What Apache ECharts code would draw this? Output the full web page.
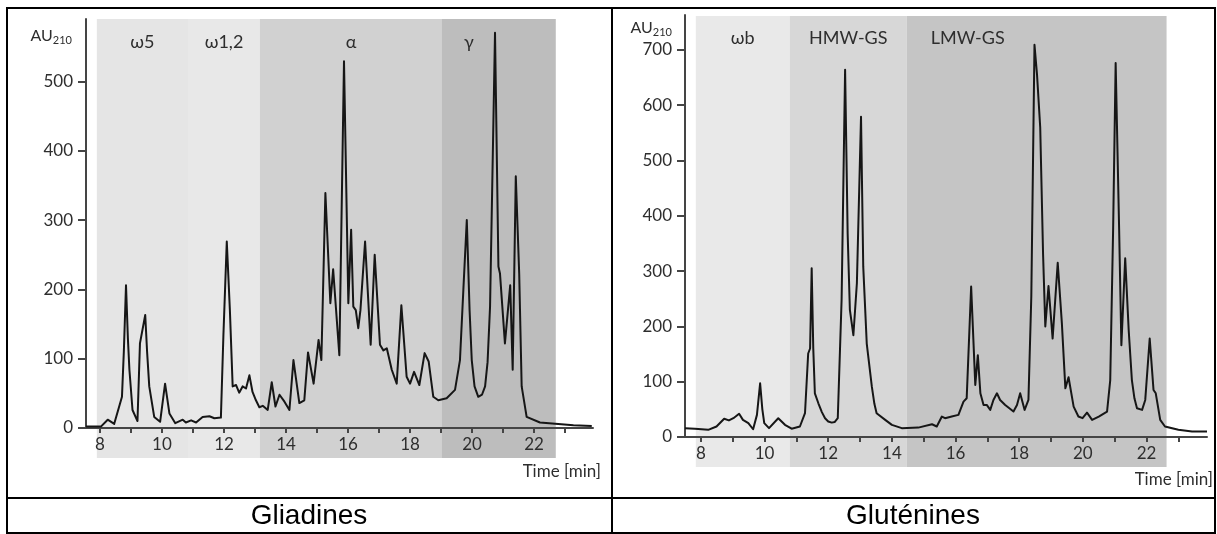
<!DOCTYPE html>
<html>
<head>
<meta charset="utf-8">
<script src="https://cdn.jsdelivr.net/npm/echarts@6/dist/echarts.min.js"></script>
<style>
  html, body { margin: 0; padding: 0; background: #fff; }
  #chart { width: 1217px; height: 534px; }
</style>
</head>
<body>
<div id="chart"></div>
<script>
// gliadin chromatogram (time in min, absorbance AU210)
const gliadinTime = [7.55, 8.03, 8.25, 8.46, 8.62, 8.71, 8.77, 8.84, 8.9, 8.95, 9.05, 9.21, 9.29, 9.35, 9.46, 9.52, 9.59, 9.75, 9.94, 10.1, 10.24, 10.43, 10.67, 10.77, 10.94, 11.1, 11.31, 11.53, 11.69, 11.9, 11.98, 12.09, 12.19, 12.28, 12.39, 12.49, 12.6, 12.71, 12.82, 12.92, 13.03, 13.14, 13.25, 13.41, 13.54, 13.66, 13.79, 13.95, 14.11, 14.24, 14.43, 14.59, 14.71, 14.89, 15.05, 15.14, 15.27, 15.43, 15.52, 15.72, 15.87, 16.01, 16.1, 16.17, 16.25, 16.33, 16.4, 16.55, 16.73, 16.86, 17.03, 17.14, 17.25, 17.41, 17.57, 17.72, 17.89, 18.0, 18.13, 18.3, 18.47, 18.6, 18.75, 18.91, 19.18, 19.45, 19.61, 19.72, 19.83, 19.92, 19.99, 20.08, 20.2, 20.32, 20.42, 20.5, 20.58, 20.74, 20.85, 20.9, 21.06, 21.23, 21.31, 21.41, 21.52, 21.6, 21.76, 22.19, 23.27, 23.86];
const gliadinAU = [2, 2, 12, 6, 31, 45, 110, 206, 130, 84, 26, 10, 122, 124, 163, 110, 60, 16, 9, 64, 21, 7, 12, 8, 11, 8, 16, 17, 14, 15, 132, 269, 170, 60, 62, 51, 60, 57, 76, 52, 40, 30, 32, 26, 66, 31, 48, 38, 26, 98, 36, 40, 109, 64, 127, 98, 339, 180, 229, 105, 529, 180, 286, 175, 170, 144, 170, 269, 120, 250, 120, 112, 115, 84, 64, 177, 74, 64, 81, 62, 108, 96, 45, 40, 43, 55, 98, 200, 300, 170, 98, 60, 45, 48, 60, 95, 175, 570, 233, 223, 122, 206, 84, 363, 223, 60, 16, 8, 4, 3];

// glutenin chromatogram
const gluteninTime = [7.5, 7.81, 8.23, 8.49, 8.73, 8.88, 9.02, 9.09, 9.2, 9.32, 9.49, 9.64, 9.76, 9.86, 9.93, 9.99, 10.14, 10.43, 10.64, 10.85, 11.11, 11.27, 11.37, 11.43, 11.48, 11.53, 11.58, 11.69, 11.8, 11.9, 12.0, 12.11, 12.2, 12.3, 12.42, 12.53, 12.61, 12.68, 12.79, 12.9, 13.03, 13.1, 13.21, 13.26, 13.37, 13.45, 13.52, 13.79, 14.0, 14.31, 14.83, 15.26, 15.41, 15.57, 15.67, 15.88, 16.09, 16.25, 16.35, 16.49, 16.62, 16.7, 16.78, 16.88, 16.98, 17.09, 17.19, 17.3, 17.4, 17.56, 17.82, 17.93, 18.03, 18.17, 18.29, 18.38, 18.48, 18.56, 18.61, 18.66, 18.75, 18.82, 18.92, 19.05, 19.21, 19.34, 19.45, 19.55, 19.71, 19.86, 19.99, 20.13, 20.29, 20.5, 20.76, 20.86, 20.95, 21.03, 21.14, 21.21, 21.33, 21.44, 21.54, 21.62, 21.7, 21.86, 21.96, 22.1, 22.22, 22.29, 22.43, 22.58, 23.0, 23.43, 23.9];
const gluteninAU = [16, 15, 13, 19, 33, 30, 34, 37, 42, 31, 25, 14, 40, 97, 50, 25, 16, 34, 22, 15, 19, 43, 151, 160, 305, 160, 79, 61, 45, 34, 28, 26, 27, 34, 248, 664, 368, 230, 184, 278, 579, 308, 169, 167, 91, 60, 43, 31, 22, 16, 17, 23, 19, 37, 34, 37, 40, 64, 70, 272, 94, 148, 79, 58, 58, 49, 67, 79, 67, 58, 46, 58, 79, 49, 67, 254, 709, 655, 652, 560, 330, 200, 273, 178, 315, 206, 88, 108, 55, 37, 34, 44, 31, 37, 46, 103, 374, 676, 374, 166, 323, 193, 103, 70, 52, 49, 67, 178, 85, 79, 31, 19, 13, 10, 10];

// fraction bands (start/end times)
const gliadinBandNames = ['ω5', 'ω1,2', 'α', 'γ'];
const gliadinBandEdges = [7.9, 10.84, 13.16, 19.03, 22.7];
const gluteninBandNames = ['ωb', 'HMW-GS', 'LMW-GS'];
const gluteninBandEdges = [7.84, 10.79, 14.47, 22.63];

const timeTicks = [8, 9, 10, 11, 12, 13, 14, 15, 16, 17, 18, 19, 20, 21, 22, 23];
const timeLabels = [8, 10, 12, 14, 16, 18, 20, 22];
const gliadinYLabels = [0, 100, 200, 300, 400, 500];
const gluteninYLabels = [0, 100, 200, 300, 400, 500, 600, 700];
const captions = ['Gliadines', 'Gluténines'];

const gliadinBandColors = ['#e5e5e5', '#e8e8e8', '#d1d1d1', '#bdbdbd'];
const gluteninBandColors = ['#e9e9e9', '#d7d7d7', '#c5c5c5'];
const gliadinLabelShift = [0, 0, 0, -30];
const gluteninLabelShift = [0, 0, -69];

const FONT = 'Lato, "Open Sans", sans-serif';
const TEXT = '#2e2e2e';
const AXIS = '#454545';

const chart = echarts.init(document.getElementById('chart'));

function bandAreas(names, edges, colors, shifts) {
  return names.map((n, i) => [
    {
      xAxis: edges[i], yAxis: 0, name: n,
      itemStyle: { color: colors[i] },
      label: { offset: [shifts[i], 0] }
    },
    { xAxis: edges[i + 1], yAxis: 1 }
  ]);
}

function mainX(idx, min, max) {
  return {
    gridIndex: idx, type: 'value', min, max, z: 5,
    axisLine: { onZero: false, lineStyle: { color: AXIS, width: 2 } },
    axisTick: { customValues: timeTicks, length: 5, lineStyle: { color: AXIS, width: 2 } },
    axisLabel: { customValues: timeLabels, color: TEXT, fontSize: 17, fontFamily: FONT, margin: 8 },
    splitLine: { show: false }
  };
}
function mainY(idx, max, labels) {
  return {
    gridIndex: idx, type: 'value', min: 0, max, z: 5,
    axisLine: { show: true, lineStyle: { color: AXIS, width: 2 } },
    axisTick: { show: true, customValues: labels, length: 8, lineStyle: { color: AXIS, width: 2 } },
    axisLabel: { customValues: labels, color: TEXT, fontSize: 17, fontFamily: FONT, margin: 13 },
    splitLine: { show: false }
  };
}
function bandX(idx, min, max) {
  return { gridIndex: idx, type: 'value', min, max, show: false };
}
function bandY(idx) {
  return { gridIndex: idx, type: 'value', min: 0, max: 1, show: false };
}

const lineStyle = { color: '#161616', width: 2, join: 'round' };
const subRich = {
  a: { fontSize: 16, fontFamily: FONT, fill: TEXT, lineHeight: 20, verticalAlign: 'middle' },
  s: { fontSize: 11, fontFamily: FONT, fill: TEXT, lineHeight: 20, verticalAlign: 'bottom' }
};

chart.setOption({
  animation: false,
  grid: [
    { left: 86, top: 19, width: 507, height: 409 },
    { left: 86, top: 19, width: 507, height: 439 },
    { left: 685, top: 15, width: 522, height: 422 },
    { left: 685, top: 16, width: 522, height: 451 }
  ],
  xAxis: [mainX(0, 7.55, 23.9), bandX(1, 7.55, 23.9), mainX(2, 7.5, 23.9), bandX(3, 7.5, 23.9)],
  yAxis: [mainY(0, 590, gliadinYLabels), bandY(1), mainY(2, 763, gluteninYLabels), bandY(3)],
  series: [
    {
      type: 'line', xAxisIndex: 1, yAxisIndex: 1, data: [], z: 1,
      markArea: {
        silent: true,
        label: { show: true, position: 'insideTop', distance: 14, color: TEXT, fontSize: 18, fontFamily: FONT },
        data: bandAreas(gliadinBandNames, gliadinBandEdges, gliadinBandColors, gliadinLabelShift)
      }
    },
    {
      type: 'line', xAxisIndex: 3, yAxisIndex: 3, data: [], z: 1,
      markArea: {
        silent: true,
        label: { show: true, position: 'insideTop', distance: 13, color: TEXT, fontSize: 18, fontFamily: FONT },
        data: bandAreas(gluteninBandNames, gluteninBandEdges, gluteninBandColors, gluteninLabelShift)
      }
    },
    {
      type: 'line', xAxisIndex: 0, yAxisIndex: 0, z: 6,
      data: gliadinTime.map((t, i) => [t, gliadinAU[i]]),
      showSymbol: false, smooth: false, lineStyle
    },
    {
      type: 'line', xAxisIndex: 2, yAxisIndex: 2, z: 6,
      data: gluteninTime.map((t, i) => [t, gluteninAU[i]]),
      showSymbol: false, smooth: false, lineStyle
    }
  ],
  graphic: [
    // table frame
    { type: 'rect', z: 10, shape: { x: 7, y: 8, width: 1208, height: 525 }, style: { fill: null, stroke: '#000', lineWidth: 2 } },
    { type: 'line', z: 10, shape: { x1: 612, y1: 8, x2: 612, y2: 533 }, style: { stroke: '#000', lineWidth: 2 } },
    { type: 'line', z: 10, shape: { x1: 7, y1: 498, x2: 1215, y2: 498 }, style: { stroke: '#000', lineWidth: 2 } },
    { type: 'text', z: 10, x: 309, y: 516, style: { text: captions[0], fill: '#000', font: '28px "Liberation Sans", Arial, sans-serif', textAlign: 'center', textVerticalAlign: 'middle' } },
    { type: 'text', z: 10, x: 913, y: 516, style: { text: captions[1], fill: '#000', font: '28px "Liberation Sans", Arial, sans-serif', textAlign: 'center', textVerticalAlign: 'middle' } },
    // axis titles
    { type: 'text', z: 10, x: 72, y: 36, style: { text: '{a|AU}{s|210}', textAlign: 'right', textVerticalAlign: 'middle', rich: subRich } },
    { type: 'text', z: 10, x: 672, y: 28, style: { text: '{a|AU}{s|210}', textAlign: 'right', textVerticalAlign: 'middle', rich: subRich } },
    { type: 'text', z: 10, x: 601, y: 472, style: { text: 'Time [min]', fill: TEXT, font: '17px ' + FONT, textAlign: 'right', textVerticalAlign: 'middle' } },
    { type: 'text', z: 10, x: 1213, y: 480, style: { text: 'Time [min]', fill: TEXT, font: '17px ' + FONT, textAlign: 'right', textVerticalAlign: 'middle' } }
  ]
});
</script>
</body>
</html>
